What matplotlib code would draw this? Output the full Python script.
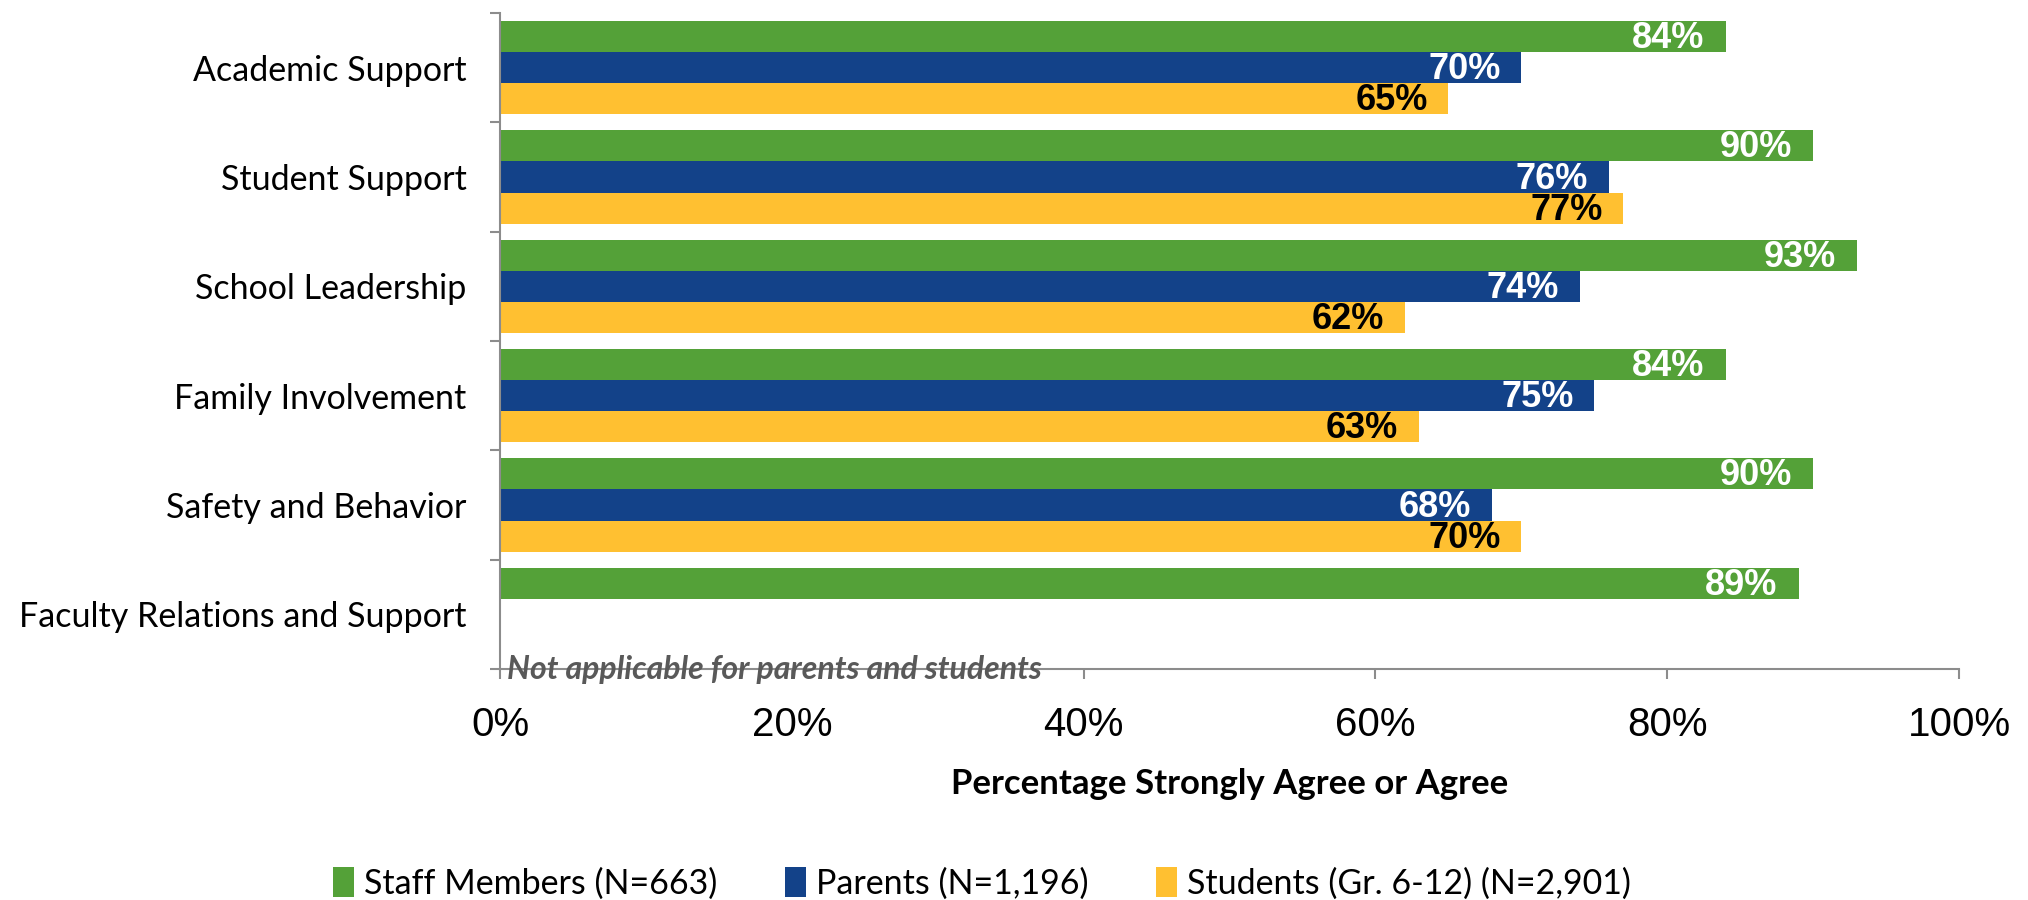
import matplotlib
matplotlib.use("Agg")
import matplotlib.pyplot as plt
import numpy as np
from matplotlib.patches import Patch

categories = ["Academic Support", "Student Support", "School Leadership",
              "Family Involvement", "Safety and Behavior", "Faculty Relations and Support"]
staff = [84, 90, 93, 84, 90, 89]
parents = [70, 76, 74, 75, 68, np.nan]
students = [65, 77, 62, 63, 70, np.nan]
series_names = ["Staff Members (N=663)", "Parents (N=1,196)", "Students (Gr. 6-12) (N=2,901)"]
colors = ["#54A138", "#134289", "#FFC031"]
label_colors = ["white", "white", "black"]
xticks = [0, 20, 40, 60, 80, 100]
xtick_labels = ["0%", "20%", "40%", "60%", "80%", "100%"]
note = "Not applicable for parents and students"
xlabel = "Percentage Strongly Agree or Agree"

CAT_FONT = ["Lato", "DejaVu Sans"]
NARROW = ["Liberation Sans Narrow", "Liberation Sans", "DejaVu Sans"]

fig = plt.figure(figsize=(20.28, 9.0), dpi=100)
ax = fig.add_axes([500/2028, 231/900, 1459/2028, 656/900])

y = np.arange(len(categories))
h = 0.285
all_series = [staff, parents, students]
for i, (vals, col, lc) in enumerate(zip(all_series, colors, label_colors)):
    pos = y + (i - 1) * h
    vals_arr = np.array(vals, dtype=float)
    mask = ~np.isnan(vals_arr)
    ax.barh(pos[mask], vals_arr[mask], height=h, color=col, edgecolor="none")
    for p, v in zip(pos[mask], vals_arr[mask]):
        ax.annotate(f"{v:.0f}%", xy=(v, p), xytext=(-15, -1.5), textcoords="offset points",
                    ha="right", va="center", color=lc, fontsize=26, fontweight="bold",
                    family=NARROW)

ax.set_xlim(0, 100)
ax.set_ylim(len(categories) - 0.5, -0.5)

for s in ["top", "right"]:
    ax.spines[s].set_visible(False)
for s in ["left", "bottom"]:
    ax.spines[s].set_color("#8C8C8C")
    ax.spines[s].set_linewidth(1.5)

ax.set_xticks(xticks)
ax.set_xticklabels(xtick_labels, family=NARROW, fontsize=29)
ax.tick_params(axis="x", direction="out", length=7, width=1.5, color="#8C8C8C", pad=20)

ax.set_yticks(np.arange(-0.5, len(categories), 1.0))
ax.set_yticklabels([])
ax.tick_params(axis="y", which="major", direction="out", length=7, width=1.5, color="#8C8C8C")
ax.set_yticks(y, minor=True)
ax.set_yticklabels(categories, minor=True, family=CAT_FONT, fontsize=24.5)
ax.tick_params(axis="y", which="minor", length=0, pad=24)

ax.text(0.5, len(categories) - 0.5, note, ha="left", va="center", color="#595959",
        fontsize=23, fontweight="bold", style="italic", family=CAT_FONT)

ax.set_xlabel(xlabel, family=CAT_FONT, fontsize=25, fontweight="bold", labelpad=17)

handles = [Patch(facecolor=c, edgecolor="none") for c in colors]
fig.legend(handles, series_names, loc="center", bbox_to_anchor=(982/2028, 1 - 883/900),
           ncol=3, frameon=False, prop={"family": CAT_FONT, "size": 24.5},
           handlelength=0.6, handleheight=1.0, handletextpad=0.3, columnspacing=2.0)

fig.savefig("out.png", dpi=100)
